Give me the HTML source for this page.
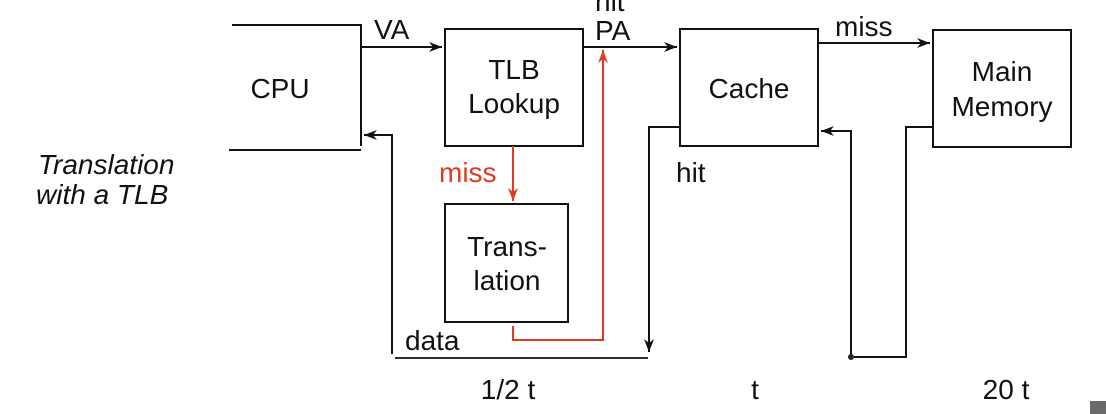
<!DOCTYPE html>
<html><head><meta charset="utf-8"><style>
html,body{margin:0;padding:0;background:#fff;width:1106px;height:414px;overflow:hidden}
svg{display:block}
text{font-family:"Liberation Sans",Arial,sans-serif;font-size:28px;fill:#111}
</style></head><body>
<svg width="1106" height="414" viewBox="0 0 1106 414">
<defs>
<marker id="a" markerWidth="14" markerHeight="10" refX="13" refY="5" orient="auto" markerUnits="userSpaceOnUse">
<path d="M0,0 L13,5 L0,10 L4,5 Z" fill="#111"/></marker>
<marker id="r" markerWidth="14" markerHeight="10" refX="13" refY="5" orient="auto" markerUnits="userSpaceOnUse">
<path d="M0,0 L13,5 L0,10 L4,5 Z" fill="#e03a22"/></marker>
</defs>
<g stroke="#111" stroke-width="2" fill="none">
<path d="M232,25 H361 V146"/>
<path d="M229,150 H361"/>
<rect x="445" y="29" width="138" height="117"/>
<rect x="680" y="29" width="138" height="117"/>
<rect x="933" y="30" width="138" height="117"/>
<rect x="445" y="204" width="123" height="118"/>
<path d="M361,47 H442" marker-end="url(#a)"/>
<path d="M583,47 H677" marker-end="url(#a)"/>
<path d="M818,43 H930" marker-end="url(#a)"/>
<path d="M392,354 V135 H364" marker-end="url(#a)"/>
<path d="M395,358 H648" stroke-width="1.8"/>
<path d="M680,127 H649 V352" marker-end="url(#a)"/>
<path d="M933,127 H906 V357 H851 V131 H821" marker-end="url(#a)"/>
</g>
<circle cx="851" cy="357" r="3" fill="#223"/>
<g stroke="#e03a22" stroke-width="2" fill="none">
<path d="M513,146 V201" marker-end="url(#r)"/>
<path d="M513,326 V340 H603 V50" marker-end="url(#r)"/>
</g>
<text x="280" y="98" text-anchor="middle">CPU</text>
<text x="514" y="79" text-anchor="middle">TLB</text>
<text x="514" y="113" text-anchor="middle">Lookup</text>
<text x="749" y="98" text-anchor="middle">Cache</text>
<text x="1002" y="81" text-anchor="middle">Main</text>
<text x="1002" y="116" text-anchor="middle">Memory</text>
<text x="507" y="256" text-anchor="middle">Trans-</text>
<text x="507" y="290" text-anchor="middle">lation</text>
<text x="374" y="39">VA</text>
<text x="595" y="40">PA</text>
<text x="595" y="11">hit</text>
<text x="835" y="36">miss</text>
<text x="439" y="182" style="fill:#e03a22">miss</text>
<text x="676" y="182">hit</text>
<text x="405" y="350">data</text>
<text x="508" y="399" text-anchor="middle">1/2 t</text>
<text x="755" y="399" text-anchor="middle">t</text>
<text x="1006" y="399" text-anchor="middle">20 t</text>
<text x="38" y="174" font-style="italic">Translation</text>
<text x="36" y="204" font-style="italic">with a TLB</text>
<rect x="1090" y="401" width="16" height="13" fill="#6a6a6a"/>
</svg>
</body></html>
